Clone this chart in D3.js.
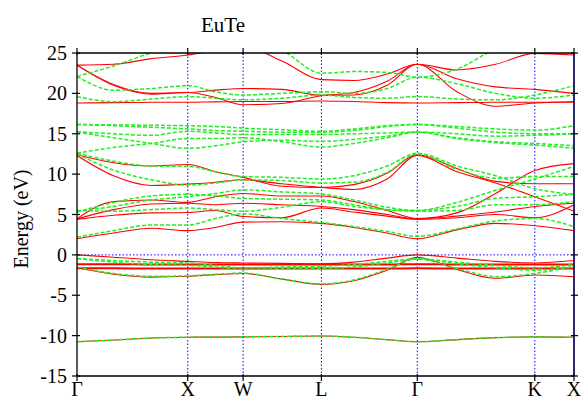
<!DOCTYPE html>
<html>
<head>
<meta charset="utf-8">
<script src="https://cdn.jsdelivr.net/npm/d3@7"></script>
<style>
  body { margin: 0; background: #fff; }
  text { font-family: "Liberation Serif", "DejaVu Serif", serif; fill: #000; }
</style>
</head>
<body>
<div id="chart"></div>
<script>
// high-symmetry points along the fcc path
const kLabels = ['Γ', 'X', 'W', 'L', 'Γ', 'K', 'X'];
const kTicks = [0, 1, 1.5, 2.207, 3.073, 4.134, 4.488];
const kPath = [0, 0.33, 0.67, 1, 1.25, 1.5, 1.85, 2.207, 2.5, 2.8, 3.073, 3.43, 3.78, 4.134, 4.488];
const energyTicks = [25, 20, 15, 10, 5, 0, -5, -10, -15];

// spin up (red, solid)
const upSemicore = [-10.75, -10.55, -10.3, -10.2, -10.18, -10.15, -10.1, -10.05, -10.2, -10.5, -10.75, -10.5, -10.25, -10.15, -10.2];
const upV1 = [0, -0.3, -0.6, -0.8, -0.95, -1.0, -1.05, -1.1, -0.9, -0.4, 0, -0.4, -0.8, -1.0, -0.7];
const upF1 = [-1.15, -1.15, -1.2, -1.2, -1.2, -1.2, -1.2, -1.2, -1.2, -1.2, -1.15, -1.2, -1.2, -1.2, -1.2];
const upF2 = [-1.65, -1.65, -1.7, -1.7, -1.7, -1.7, -1.7, -1.7, -1.7, -1.7, -1.65, -1.7, -1.7, -1.7, -1.7];
const upV3 = [-1.6, -2.4, -2.75, -2.65, -2.45, -2.3, -3.0, -3.65, -3.2, -1.9, -0.3, -1.8, -2.9, -2.5, -2.7];
const upC1 = [2.0, 2.7, 3.3, 3.0, 3.4, 4.05, 4.1, 3.9, 3.4, 2.7, 2.0, 3.1, 3.9, 3.6, 3.0];
const upC2 = [4.4, 4.9, 5.2, 5.25, 5.5, 4.75, 4.6, 5.8, 5.3, 4.8, 4.4, 4.6, 5.0, 4.6, 6.2];
const upC3 = [4.45, 5.6, 6.3, 6.4, 6.2, 6.4, 6.2, 6.0, 5.6, 5.0, 4.45, 4.8, 5.3, 6.0, 6.4];
const upC4 = [4.5, 6.6, 6.8, 6.5, 7.2, 7.6, 7.3, 7.3, 6.6, 5.5, 4.5, 5.2, 7.6, 10.45, 11.3];
const upC5 = [12.3, 9.8, 8.6, 8.76, 9.0, 9.3, 8.8, 8.35, 8.1, 9.4, 12.3, 10.3, 8.9, 7.2, 5.4];
const upC6 = [12.4, 11.4, 11.0, 11.2, 10.3, 9.6, 8.5, 8.35, 8.7, 10.1, 12.4, 10.7, 9.1, 8.8, 8.8];
const upU1 = [18.8, 18.85, 18.9, 18.9, 18.95, 19.0, 19.0, 19.05, 19.0, 18.85, 18.8, 18.85, 18.9, 18.9, 18.9];
const upU2 = [23.5, 21.0, 19.9, 20.1, 19.5, 18.6, 18.75, 19.7, 20.1, 21.5, 23.6, 20.2, 18.4, 18.8, 19.0];
const upU3 = [23.5, 23.6, 24.3, 24.75, 25.3, 25.8, 24.0, 21.7, 21.6, 22.4, 23.6, 22.9, 23.6, 24.95, 24.75];
const upU4 = [23.5, 21.1, 20.0, 20.1, 20.4, 20.6, 20.5, 19.75, 19.8, 21.0, 23.6, 21.8, 20.8, 20.5, 20.0];

// spin down (green, dashed)
const dnSemicore = [-10.75, -10.55, -10.3, -10.2, -10.18, -10.15, -10.1, -10.05, -10.2, -10.5, -10.75, -10.5, -10.25, -10.15, -10.2];
const dnV1 = [-0.45, -0.7, -0.9, -1.0, -1.3, -1.6, -1.5, -1.4, -1.2, -0.8, -0.5, -0.9, -1.3, -1.6, -1.2];
const dnV2 = [-0.45, -0.9, -1.2, -1.3, -1.5, -1.8, -1.7, -1.7, -1.5, -1.0, -0.5, -1.1, -1.6, -1.9, -1.5];
const dnV3 = [-1.5, -2.3, -2.65, -2.6, -2.4, -2.25, -3.0, -3.6, -3.1, -1.8, -0.5, -1.7, -2.7, -2.3, -1.4];
const dnC1 = [2.2, 3.0, 3.7, 3.7, 4.5, 5.1, 4.5, 4.0, 3.5, 2.9, 2.3, 3.2, 4.2, 4.5, 3.5];
const dnC2 = [5.3, 6.5, 7.3, 7.5, 7.3, 7.0, 6.9, 6.8, 6.2, 5.6, 5.4, 5.5, 6.2, 6.2, 6.6];
const dnC3 = [5.4, 6.0, 6.8, 7.2, 7.6, 8.05, 7.8, 7.55, 6.8, 5.9, 5.5, 6.0, 7.0, 7.2, 7.5];
const dnC4 = [5.5, 5.4, 5.6, 5.8, 5.6, 5.4, 5.9, 6.6, 6.0, 5.6, 5.5, 6.5, 8.0, 9.4, 10.95];
const dnC5 = [12.5, 10.5, 9.3, 8.65, 8.9, 9.3, 9.2, 8.9, 9.0, 10.2, 12.5, 10.6, 9.5, 9.7, 9.7];
const dnC6 = [12.6, 11.6, 11.0, 10.95, 10.3, 9.7, 9.6, 9.4, 9.8, 11.0, 12.6, 11.0, 9.8, 8.2, 7.5];
const dnM1 = [16.15, 16.1, 16.05, 16.0, 15.9, 15.7, 15.5, 15.3, 15.6, 16.0, 16.15, 15.9, 15.6, 15.45, 16.0];
const dnM2 = [16.15, 16.0, 15.8, 15.6, 15.4, 15.3, 15.2, 15.2, 15.4, 15.9, 16.15, 15.7, 15.2, 15.0, 15.0];
const dnM3 = [15.25, 15.0, 14.8, 15.3, 15.1, 14.9, 14.9, 14.9, 15.0, 15.1, 15.2, 15.0, 14.7, 14.8, 15.0];
const dnM4 = [15.2, 14.5, 13.8, 13.2, 13.5, 14.0, 14.2, 14.05, 14.3, 14.7, 15.2, 14.5, 14.0, 13.8, 13.5];
const dnM5 = [12.6, 13.3, 13.8, 14.4, 14.4, 14.5, 14.0, 13.35, 13.8, 14.5, 15.2, 14.4, 13.9, 13.6, 13.2];
const dnU1 = [22.1, 23.4, 25.0, 26.0, 26.5, 26.5, 25.3, 22.5, 22.7, 22.6, 22.0, 23.0, 25.5, 27, 27];
const dnU2 = [22.1, 20.4, 20.6, 20.95, 20.2, 19.8, 20.0, 20.2, 20.0, 20.6, 22.0, 21.2, 20.0, 19.4, 19.8];
const dnU3 = [19.6, 18.97, 19.3, 19.6, 19.4, 19.2, 19.4, 19.8, 19.5, 19.4, 19.6, 19.3, 19.2, 19.8, 20.95];

const upBands = [upSemicore, upV1, upF1, upF2, upV3, upC1, upC2, upC3, upC4, upC5, upC6, upU1, upU2, upU3, upU4];
const dnBands = [dnSemicore, dnV1, dnV2, dnV3, dnC1, dnC2, dnC3, dnC4, dnC5, dnC6, dnM1, dnM2, dnM3, dnM4, dnM5, dnU1, dnU2, dnU3];

const width = 582, height = 401;
const margin = {top: 53, right: 8, bottom: 25, left: 77};

const svg = d3.select('#chart').append('svg')
  .attr('width', width).attr('height', height);

const x = d3.scaleLinear().domain([0, 4.488]).range([margin.left, width - margin.right]);
const y = d3.scaleLinear().domain([-15, 25]).range([height - margin.bottom, margin.top]);

svg.append('clipPath').attr('id', 'plot')
  .append('rect')
  .attr('x', x(0)).attr('y', y(25))
  .attr('width', x(4.488) - x(0)).attr('height', y(-15) - y(25));

const line = d3.line()
  .x((d, i) => x(kPath[i]))
  .y(d => y(d))
  .curve(d3.curveMonotoneX);

// fermi level and symmetry lines
svg.append('line')
  .attr('x1', x(0)).attr('x2', x(4.488))
  .attr('y1', y(0)).attr('y2', y(0))
  .attr('stroke', '#0000ff').attr('stroke-width', 1).attr('stroke-dasharray', '1.5,2');

svg.append('g').selectAll('line')
  .data(kTicks.slice(1))
  .enter().append('line')
  .attr('x1', d => x(d)).attr('x2', d => x(d))
  .attr('y1', y(25)).attr('y2', y(-15))
  .attr('stroke', '#0000ff').attr('stroke-width', 1).attr('stroke-dasharray', '1.5,2');

const bands = svg.append('g').attr('clip-path', 'url(#plot)');

bands.selectAll('path.up')
  .data(upBands)
  .enter().append('path')
  .attr('class', 'up')
  .attr('d', line)
  .attr('fill', 'none')
  .attr('stroke', '#ff0000')
  .attr('stroke-width', d => (d === upF1 || d === upF2) ? 2 : 1.1);

bands.selectAll('path.dn')
  .data(dnBands)
  .enter().append('path')
  .attr('class', 'dn')
  .attr('d', line)
  .attr('fill', 'none')
  .attr('stroke', '#22ee22')
  .attr('stroke-width', 1.5)
  .attr('stroke-dasharray', '4,2');

// frame
const frame = svg.append('g').attr('stroke', '#000').attr('stroke-width', 1.3);
frame.append('line').attr('x1', x(0)).attr('x2', x(4.488)).attr('y1', y(25)).attr('y2', y(25));
frame.append('line').attr('x1', x(0)).attr('x2', x(4.488)).attr('y1', y(-15)).attr('y2', y(-15));
frame.append('line').attr('x1', x(0)).attr('x2', x(0)).attr('y1', y(25)).attr('y2', y(-15));
svg.append('line')
  .attr('x1', x(4.488)).attr('x2', x(4.488)).attr('y1', y(25)).attr('y2', y(-15))
  .attr('stroke', '#2a2a6a').attr('stroke-width', 2);

// y ticks, both sides
const yTicks = svg.append('g').attr('stroke', '#000').attr('stroke-width', 1.2);
energyTicks.forEach(e => {
  yTicks.append('line').attr('x1', x(0) - 5).attr('x2', x(0) + 3).attr('y1', y(e)).attr('y2', y(e));
  yTicks.append('line').attr('x1', x(4.488) - 3).attr('x2', x(4.488) + 4).attr('y1', y(e)).attr('y2', y(e));
});

svg.append('g').selectAll('text')
  .data(energyTicks)
  .enter().append('text')
  .attr('x', x(0) - 10)
  .attr('y', d => y(d))
  .attr('dy', '0.35em')
  .attr('text-anchor', 'end')
  .style('font-size', '20px')
  .text(d => d);

// k ticks, top and bottom
const kt = svg.append('g').attr('stroke', '#000').attr('stroke-width', 1.2);
kTicks.forEach(k => {
  kt.append('line').attr('x1', x(k)).attr('x2', x(k)).attr('y1', y(25) - 5).attr('y2', y(25) + 2);
  kt.append('line').attr('x1', x(k)).attr('x2', x(k)).attr('y1', y(-15) - 2).attr('y2', y(-15) + 5);
});

svg.append('g').selectAll('text')
  .data(kLabels)
  .enter().append('text')
  .attr('x', (d, i) => x(kTicks[i]))
  .attr('y', 396)
  .attr('text-anchor', 'middle')
  .style('font-size', '20px')
  .text(d => d);

svg.append('text')
  .attr('x', 223).attr('y', 32)
  .attr('text-anchor', 'middle')
  .style('font-size', '21px')
  .text('EuTe');

svg.append('text')
  .attr('transform', 'translate(28,219) rotate(-90)')
  .attr('text-anchor', 'middle')
  .style('font-size', '20px')
  .text('Energy  (eV)');
</script>
</body>
</html>
